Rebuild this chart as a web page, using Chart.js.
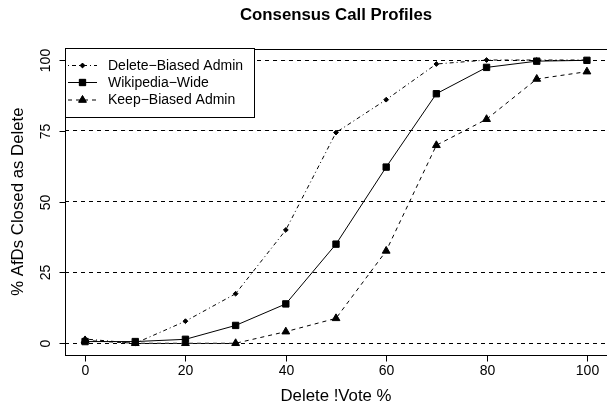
<!DOCTYPE html>
<html>
<head>
<meta charset="utf-8">
<script src="https://cdn.jsdelivr.net/npm/chart.js@4.4.1/dist/chart.umd.min.js"></script>
<style>
  html, body { margin: 0; padding: 0; background: #fff; }
  #wrap { width: 607px; height: 409px; }
</style>
</head>
<body>
<div id="wrap"><canvas id="chart"></canvas></div>
<script>
// Data
const voteShare = [0, 10, 20, 30, 40, 50, 60, 70, 80, 90, 100];
const deleteBiased = [1.5, 0, 7.8, 17.5, 40, 74.4, 86, 98.6, 100, 100, 100];
const wikipediaWide = [0.6, 0.6, 1.4, 6.3, 13.9, 35, 62.2, 88.1, 97.4, 99.6, 99.9];
const keepBiased = [1.0, 0, 0, 0, 4.1, 8.8, 32.6, 69.9, 79.1, 93.3, 95.9];

const seriesNames = ["Delete\u2212Biased Admin", "Wikipedia\u2212Wide", "Keep\u2212Biased Admin"];
const xTicks = [0, 20, 40, 60, 80, 100];
const yTicks = [0, 25, 50, 75, 100];

const chartTitle = "Consensus Call Profiles";
const xTitle = "Delete !Vote %";
const yTitle = "% AfDs Closed as Delete";

const FONT = "'Liberation Sans', Arial, Helvetica, sans-serif";

function pts(ys) {
  return voteShare.map((x, i) => ({ x: x, y: ys[i] }));
}

const styles = [
  { dash: [1, 3, 4, 3], point: "rectRot", radius: 2.4 },
  { dash: [], point: "rect", radius: 4.5 },
  { dash: [4, 4], point: "triangle", radius: 4.5 }
];

// frame, ticks, labels, titles and legend, R style
const rAxes = {
  id: "rAxes",
  afterDraw(chart) {
    const ctx = chart.ctx;
    const a = chart.chartArea;
    const xs = chart.scales.x;
    const ys = chart.scales.y;
    ctx.save();
    ctx.strokeStyle = "#000";
    ctx.fillStyle = "#000";
    ctx.lineWidth = 1;

    // box
    ctx.strokeRect(Math.round(a.left) + 0.5, Math.round(a.top) + 0.5,
      Math.round(a.right - a.left), Math.round(a.bottom - a.top));

    // x ticks
    ctx.font = "14px " + FONT;
    ctx.textAlign = "center";
    ctx.textBaseline = "middle";
    const bottom = Math.round(a.bottom) + 0.5;
    xTicks.forEach(v => {
      const px = Math.round(xs.getPixelForValue(v)) + 0.5;
      ctx.beginPath();
      ctx.moveTo(px, bottom);
      ctx.lineTo(px, bottom + 6);
      ctx.stroke();
      ctx.fillText(String(v), px, 371);
    });

    // y ticks, labels parallel to the axis
    const left = Math.round(a.left) + 0.5;
    yTicks.forEach(v => {
      const py = Math.round(ys.getPixelForValue(v)) + 0.5;
      ctx.beginPath();
      ctx.moveTo(left, py);
      ctx.lineTo(left - 6, py);
      ctx.stroke();
      ctx.save();
      ctx.translate(46.5, py);
      ctx.rotate(-Math.PI / 2);
      ctx.fillText(String(v), 0, 0);
      ctx.restore();
    });

    // titles
    const cx = (a.left + xs.getPixelForValue(104)) / 2;
    ctx.font = "16.8px " + FONT;
    ctx.fillText(xTitle, cx, 396);
    ctx.save();
    ctx.translate(18, (a.top + a.bottom) / 2);
    ctx.rotate(-Math.PI / 2);
    ctx.fillText(yTitle, 0, 0);
    ctx.restore();
    ctx.font = "bold 16.8px " + FONT;
    ctx.fillText(chartTitle, cx, 15);

    // legend
    const lx = 65.5, ly = 48.5, lw = 189, lh = 69;
    ctx.fillStyle = "#fff";
    ctx.fillRect(lx, ly, lw, lh);
    ctx.strokeRect(lx, ly, lw, lh);
    ctx.fillStyle = "#000";
    ctx.font = "14px " + FONT;
    ctx.textAlign = "left";
    const rows = [65.5, 82.5, 100];
    chart.data.datasets.forEach((ds, i) => {
      const y = rows[i];
      ctx.setLineDash(styles[i].dash);
      ctx.beginPath();
      ctx.moveTo(68, y);
      ctx.lineTo(97, y);
      ctx.stroke();
      ctx.setLineDash([]);
      Chart.helpers.drawPoint(ctx, {
        pointStyle: styles[i].point,
        radius: styles[i].radius,
        borderWidth: 1
      }, 82.5, y);
      ctx.fill();
      ctx.fillText(ds.label, 108, y + 0.5);
    });
    ctx.restore();
  }
};

const datasets = [deleteBiased, wikipediaWide, keepBiased].map((ys, i) => ({
  label: seriesNames[i],
  data: pts(ys),
  borderColor: "#000",
  backgroundColor: "#000",
  borderWidth: 1,
  borderDash: styles[i].dash,
  pointStyle: styles[i].point,
  pointRadius: styles[i].radius,
  pointBorderWidth: 1,
  pointBackgroundColor: "#000",
  pointBorderColor: "#000",
  tension: 0,
  fill: false,
  clip: false,
  order: 3 - i
}));

new Chart(document.getElementById("chart"), {
  type: "line",
  data: { datasets: datasets },
  options: {
    responsive: true,
    maintainAspectRatio: false,
    animation: false,
    layout: { autoPadding: false, padding: { left: 65, right: -2, top: 48.7, bottom: 54.4 } },
    plugins: {
      legend: { display: false },
      title: { display: false },
      tooltip: { enabled: false }
    },
    scales: {
      x: {
        type: "linear",
        min: -4,
        max: 104,
        ticks: { display: false },
        grid: { display: false, drawTicks: false },
        border: { display: false }
      },
      y: {
        type: "linear",
        min: -4,
        max: 104,
        afterBuildTicks: s => { s.ticks = yTicks.map(v => ({ value: v })); },
        ticks: { display: false },
        grid: { color: "#000", lineWidth: 1, drawTicks: false },
        border: { display: false, dash: [4, 4] }
      }
    }
  },
  plugins: [rAxes]
});
</script>
</body>
</html>
